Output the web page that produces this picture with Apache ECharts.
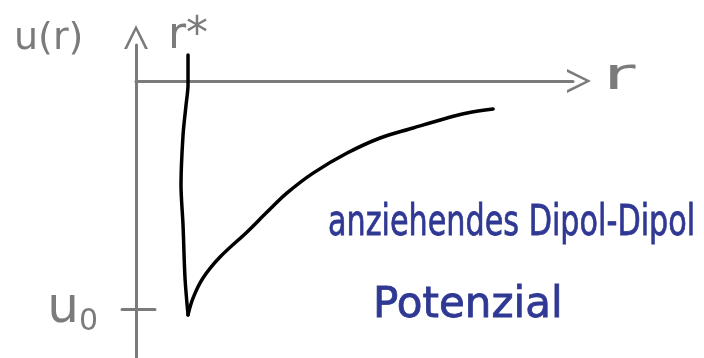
<!DOCTYPE html>
<html>
<head>
<meta charset="utf-8">
<script src="https://cdn.jsdelivr.net/npm/echarts@6/dist/echarts.min.js"></script>
<style>
  html, body { margin: 0; padding: 0; background: #ffffff; }
  #chart { width: 704px; height: 358px; }
</style>
</head>
<body>
<div id="chart"></div>
<script>
// Repulsive wall: from above r* down to the well minimum (r in units of r*, u in units of |u0|)
const wallR = [1.0, 1.0, 0.962, 0.904, 0.865, 0.904, 0.942, 1.0];
const wallU = [0.114, -0.018, -0.105, -0.237, -0.456, -0.632, -0.864, -1.026];
// Attractive tail: from the well minimum outwards
const tailR = [1.0, 1.096, 1.288, 1.615, 2.135, 2.519, 2.904, 3.404, 4.058, 4.692, 5.327, 5.981, 6.365, 6.865];
const tailU = [-1.026, -0.952, -0.864, -0.772, -0.662, -0.575, -0.491, -0.404, -0.316, -0.25, -0.206, -0.162, -0.140, -0.123];
// Marked positions on the axes
const rStar = 1;
const u0 = -1;
const rRange = [0, 8.4];
const uRange = [-1.215, 0.158];

const inkGray = '#7b7b7b';
const inkBlue = '#2f3893';
const hand = '"DejaVu Sans", "Noto Sans", sans-serif';

// open chevron used as arrow head, pointing along the axis
const chevron = 'path://M0,20 L10,0 L20,20 L17.5,20 L10,4.5 L2.5,20 Z';

const penLine = { color: '#000000', width: 3.5, cap: 'round', join: 'round' };

const chart = echarts.init(document.getElementById('chart'), null, { renderer: 'canvas' });
chart.setOption({
  animation: false,
  backgroundColor: '#ffffff',
  grid: { left: 136, top: 45, width: 437, height: 313, containLabel: false },
  xAxis: {
    type: 'value', min: rRange[0], max: rRange[1],
    axisLine: {
      show: true, onZero: true,
      lineStyle: { color: inkGray, width: 3, cap: 'round' },
      symbol: ['none', chevron], symbolSize: [28, 24], symbolOffset: [0, 6]
    },
    axisTick: { show: false }, axisLabel: { show: false }, splitLine: { show: false }
  },
  yAxis: [
    {
      type: 'value', min: uRange[0], max: uRange[1],
      axisLine: {
        show: true,
        lineStyle: { color: inkGray, width: 3, cap: 'round' },
        symbol: ['none', chevron], symbolSize: [26, 24], symbolOffset: [0, 8]
      },
      axisTick: { show: true, customValues: [u0], length: 14, lineStyle: { color: inkGray, width: 3, cap: 'round' } },
      axisLabel: {
        show: true, customValues: [u0], margin: 38,
        formatter: () => '{u|u}{o|0}',
        rich: {
          u: { color: inkGray, fontFamily: hand, fontSize: 50 },
          o: { color: inkGray, fontFamily: hand, fontSize: 30, padding: [26, 0, 0, 0] }
        }
      },
      splitLine: { show: false }
    },
    {
      type: 'value', min: uRange[0], max: uRange[1], position: 'left',
      axisLine: { show: false },
      axisTick: { show: true, inside: true, customValues: [u0], length: 19, lineStyle: { color: inkGray, width: 3, cap: 'round' } },
      axisLabel: { show: false }, splitLine: { show: false }
    }
  ],
  series: [
    {
      type: 'line',
      data: wallR.map((r, i) => [r, wallU[i]]),
      smooth: 0.3,
      symbol: 'none',
      lineStyle: penLine,
      silent: true,
      markPoint: {
        symbol: 'circle', symbolSize: 1,
        itemStyle: { color: 'rgba(0,0,0,0)' },
        label: { show: true, position: 'top', distance: -4, formatter: 'r*', color: inkGray, fontFamily: hand, fontSize: 44 },
        data: [{ coord: [rStar, wallU[0]] }]
      }
    },
    {
      type: 'line',
      data: tailR.map((r, i) => [r, tailU[i]]),
      smooth: 0.35,
      symbol: 'none',
      lineStyle: penLine,
      silent: true
    }
  ],
  graphic: [
    { type: 'text', left: 14, top: 20, style: { text: 'u(r)', fill: inkGray, font: '38px ' + hand } },
    { type: 'text', x: 603, y: 56, scaleX: 1.8, style: { text: 'r', fill: inkGray, font: '44px ' + hand } },
    { type: 'text', x: 328, y: 203, scaleX: 0.72, style: { text: 'anziehendes Dipol-Dipol', fill: inkBlue, stroke: inkBlue, lineWidth: 0.8, font: '42px ' + hand } },
    { type: 'text', x: 373, y: 285, style: { text: 'Potenzial', fill: inkBlue, stroke: inkBlue, lineWidth: 0.8, font: '42px ' + hand } }
  ]
});
</script>
</body>
</html>
